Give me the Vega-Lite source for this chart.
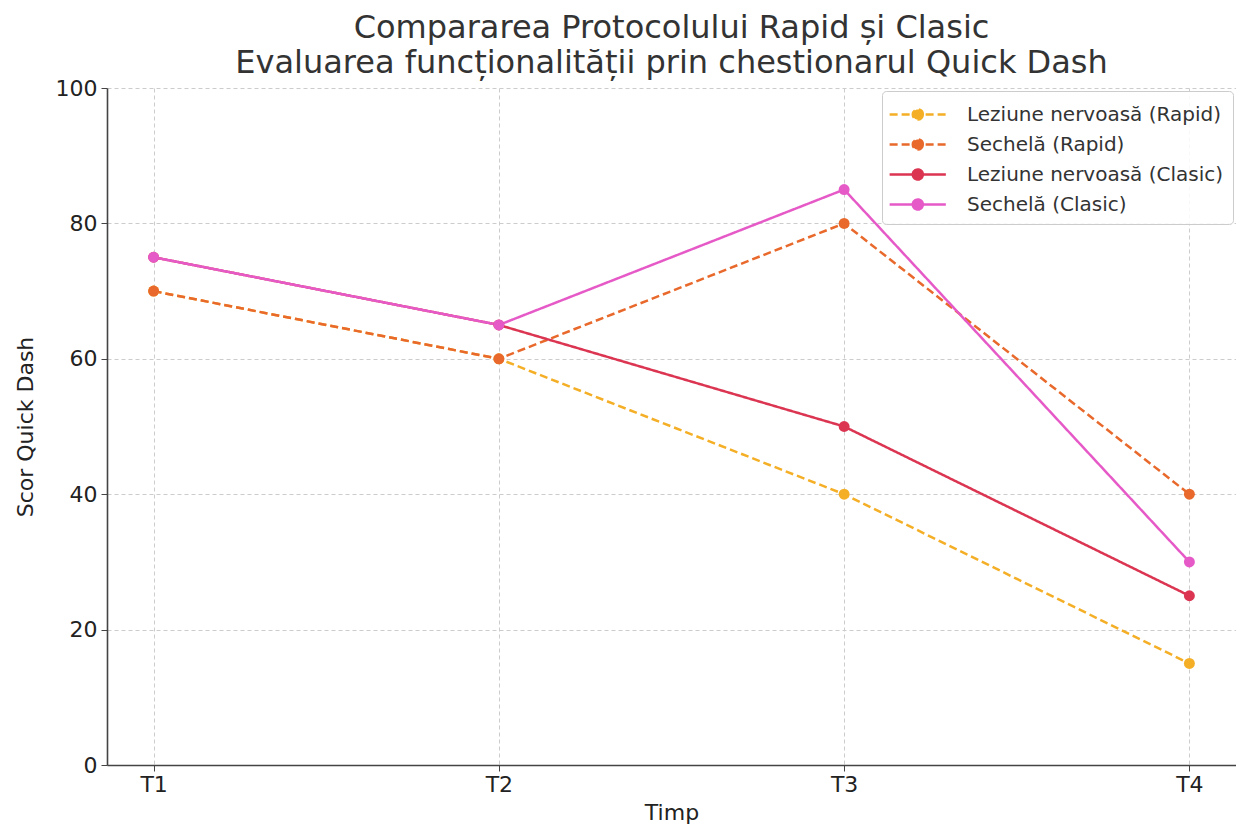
{
  "$schema": "https://vega.github.io/schema/vega-lite/v6.json",
  "autosize": {"type": "none"},
  "padding": {"left": 107, "top": 88, "right": 0, "bottom": 61},
  "width": 1129,
  "height": 677,
  "background": "white",
  "title": {
    "text": ["Compararea Protocolului Rapid și Clasic", "Evaluarea funcționalității prin chestionarul Quick Dash"],
    "font": "DejaVu Sans",
    "fontSize": 32,
    "fontWeight": "normal",
    "color": "#333333",
    "lineHeight": 35,
    "offset": -3,
    "anchor": "middle"
  },
  "config": {
    "font": "DejaVu Sans",
    "view": {"stroke": null},
    "axis": {
      "labelFont": "DejaVu Sans",
      "titleFont": "DejaVu Sans",
      "labelFontSize": 22,
      "titleFontSize": 22,
      "titleFontWeight": "normal",
      "labelColor": "#222222",
      "titleColor": "#222222",
      "gridColor": "#cccccc",
      "gridDash": [4, 3],
      "gridWidth": 1,
      "domainColor": "#444444",
      "domainWidth": 1.6,
      "tickColor": "#444444",
      "tickSize": 6
    }
  },
  "data": {
    "values": [
      {"t": "T1", "serie": "Leziune nervoasă (Rapid)", "scor": 70, "ord": 1},
      {"t": "T2", "serie": "Leziune nervoasă (Rapid)", "scor": 60, "ord": 1},
      {"t": "T3", "serie": "Leziune nervoasă (Rapid)", "scor": 40, "ord": 1},
      {"t": "T4", "serie": "Leziune nervoasă (Rapid)", "scor": 15, "ord": 1},
      {"t": "T1", "serie": "Sechelă (Rapid)", "scor": 70, "ord": 2},
      {"t": "T2", "serie": "Sechelă (Rapid)", "scor": 60, "ord": 2},
      {"t": "T3", "serie": "Sechelă (Rapid)", "scor": 80, "ord": 2},
      {"t": "T4", "serie": "Sechelă (Rapid)", "scor": 40, "ord": 2},
      {"t": "T1", "serie": "Leziune nervoasă (Clasic)", "scor": 75, "ord": 3},
      {"t": "T2", "serie": "Leziune nervoasă (Clasic)", "scor": 65, "ord": 3},
      {"t": "T3", "serie": "Leziune nervoasă (Clasic)", "scor": 50, "ord": 3},
      {"t": "T4", "serie": "Leziune nervoasă (Clasic)", "scor": 25, "ord": 3},
      {"t": "T1", "serie": "Sechelă (Clasic)", "scor": 75, "ord": 4},
      {"t": "T2", "serie": "Sechelă (Clasic)", "scor": 65, "ord": 4},
      {"t": "T3", "serie": "Sechelă (Clasic)", "scor": 85, "ord": 4},
      {"t": "T4", "serie": "Sechelă (Clasic)", "scor": 30, "ord": 4}
    ]
  },
  "encoding": {
    "x": {
      "field": "t", "type": "ordinal", "title": "Timp",
      "scale": {"type": "point", "padding": 0.135},
      "axis": {"labelAngle": 0, "grid": true, "titlePadding": 7, "labelPadding": 3}
    },
    "y": {
      "field": "scor", "type": "quantitative", "title": "Scor Quick Dash",
      "scale": {"domain": [0, 100], "nice": false},
      "axis": {"values": [0, 20, 40, 60, 80, 100], "grid": true, "titlePadding": 18, "labelPadding": 4}
    },
    "color": {
      "field": "serie", "type": "nominal",
      "scale": {
        "domain": ["Leziune nervoasă (Rapid)", "Sechelă (Rapid)", "Leziune nervoasă (Clasic)", "Sechelă (Clasic)"],
        "range": ["#F4AF26", "#E8692B", "#DB3552", "#E65AC8"]
      },
      "legend": {
        "title": null,
        "orient": "top-right",
        "offset": 3,
        "labelFont": "DejaVu Sans",
        "labelFontSize": 20,
        "labelColor": "#333333",
        "labelLimit": 400,
        "labelOffset": 47,
        "rowPadding": 5,
        "symbolType": "M-1.2,0L3.05,0M1.31,0A0.38,0.38 0 1,1 0.55,0A0.38,0.38 0 1,1 1.31,0Z",
        "symbolSize": 700,
        "symbolStrokeWidth": 2.5,
        "fillColor": "rgba(255,255,255,0.85)",
        "strokeColor": "#cccccc",
        "cornerRadius": 4,
        "padding": 9,
        "encode": {
          "symbols": {"update": {"fill": {"scale": "color", "field": "value"}}}
        }
      }
    },
    "strokeDash": {
      "field": "serie", "type": "nominal",
      "scale": {
        "domain": ["Leziune nervoasă (Rapid)", "Sechelă (Rapid)", "Leziune nervoasă (Clasic)", "Sechelă (Clasic)"],
        "range": [[8, 4], [8, 4], [1, 0], [1, 0]]
      },
      "legend": null
    },
    "order": {"field": "ord"}
  },
  "layer": [
    {"mark": {"type": "line", "strokeWidth": 2.5}},
    {"mark": {"type": "point", "filled": true, "size": 120, "opacity": 1}}
  ]
}
